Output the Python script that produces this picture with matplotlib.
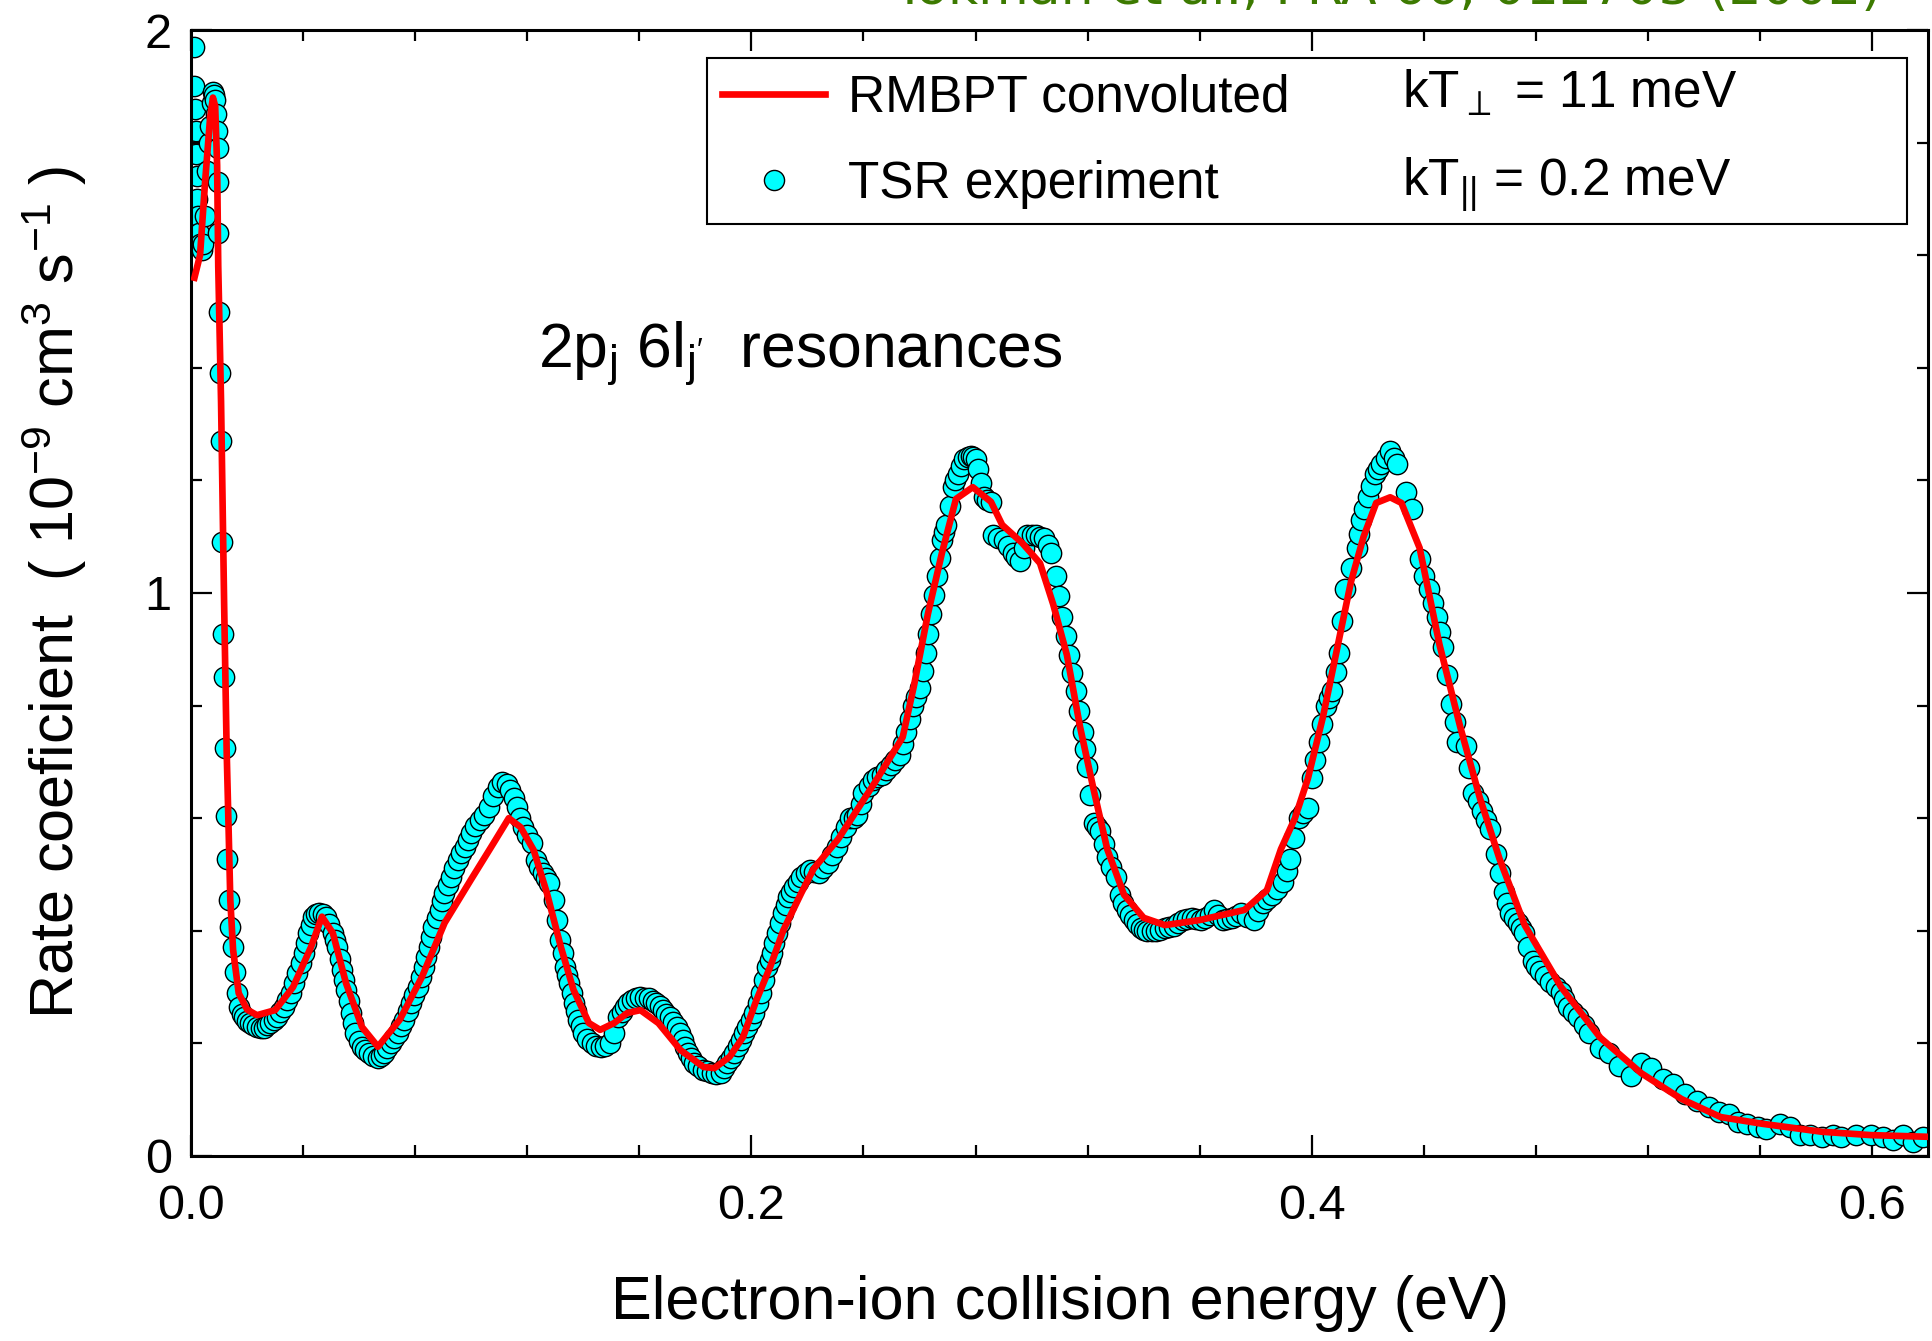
import numpy as np
import matplotlib
matplotlib.use("Agg")
import matplotlib.pyplot as plt
from matplotlib.lines import Line2D
from matplotlib.ticker import MultipleLocator, FormatStrFormatter

plt.rcParams['font.family'] = ['Liberation Sans', 'DejaVu Sans']
plt.rcParams['mathtext.fontset'] = 'custom'
plt.rcParams['mathtext.rm'] = 'Liberation Sans'
plt.rcParams['mathtext.default'] = 'regular'

# RMBPT theory convoluted with kT_perp = 11 meV, kT_par = 0.2 meV
theory_e = np.array([
    0.0012, 0.0032, 0.0050, 0.0068, 0.0078, 0.0086, 0.0093, 0.0097, 0.0107, 0.0118,
    0.0127, 0.0134, 0.0140, 0.0150, 0.0170, 0.0200, 0.0235, 0.0300, 0.0364, 0.0428,
    0.0467, 0.0506, 0.0553, 0.0610, 0.0667, 0.0745, 0.0824, 0.0905, 0.0998, 0.1080,
    0.1134, 0.1176, 0.1223, 0.1270, 0.1320, 0.1365, 0.1420, 0.1460, 0.1510, 0.1557,
    0.1604, 0.1668, 0.1747, 0.1829, 0.1868, 0.1922, 0.1970, 0.2018, 0.2067, 0.2114,
    0.2178, 0.2222, 0.2310, 0.2440, 0.2540, 0.2580, 0.2630, 0.2680, 0.2730, 0.2790,
    0.2855, 0.2895, 0.2966, 0.3030, 0.3077, 0.3126, 0.3173, 0.3220, 0.3270, 0.3330,
    0.3400, 0.3476, 0.3600, 0.3760, 0.3840, 0.3890, 0.3940, 0.3986, 0.4040, 0.4090,
    0.4140, 0.4185, 0.4230, 0.4280, 0.4320, 0.4385, 0.4456, 0.4530, 0.4600, 0.4670,
    0.4760, 0.4890, 0.5030, 0.5176, 0.5320, 0.5460, 0.5610, 0.5820, 0.5996, 0.6200])
theory_rate = np.array([
    1.56, 1.60, 1.73, 1.845, 1.88, 1.865, 1.76, 1.58, 1.34, 0.98,
    0.72, 0.58, 0.455, 0.366, 0.289, 0.26, 0.25, 0.259, 0.300, 0.371,
    0.425, 0.396, 0.307, 0.229, 0.194, 0.242, 0.318, 0.414, 0.490, 0.556,
    0.600, 0.584, 0.543, 0.467, 0.371, 0.295, 0.236, 0.224, 0.236, 0.254,
    0.259, 0.236, 0.188, 0.158, 0.156, 0.176, 0.211, 0.277, 0.336, 0.401,
    0.467, 0.510, 0.563, 0.663, 0.744, 0.835, 0.963, 1.071, 1.167, 1.188,
    1.162, 1.121, 1.089, 1.053, 0.980, 0.890, 0.762, 0.654, 0.545, 0.464,
    0.423, 0.410, 0.419, 0.437, 0.472, 0.545, 0.600, 0.670, 0.780, 0.900,
    1.020, 1.100, 1.160, 1.170, 1.160, 1.080, 0.908, 0.762, 0.636, 0.528,
    0.410, 0.300, 0.210, 0.147, 0.101, 0.069, 0.057, 0.043, 0.037, 0.034])

# TSR storage ring measurement
exp_e = np.array([
    0.0010, 0.0012, 0.0014, 0.0016, 0.0018, 0.0020, 0.0022, 0.0025, 0.0028, 0.0032,
    0.0038, 0.0044, 0.0050, 0.0057, 0.0063, 0.0068, 0.0073, 0.0077, 0.0082, 0.0086,
    0.0090, 0.0093, 0.0095, 0.0096, 0.0097, 0.0099, 0.0103, 0.0106, 0.0110, 0.0114,
    0.0117, 0.0120, 0.0123, 0.0130, 0.0136, 0.0140, 0.0148, 0.0156, 0.0164, 0.0171,
    0.0180, 0.0189, 0.0200, 0.0210, 0.0222, 0.0235, 0.0248, 0.0260, 0.0272, 0.0283,
    0.0295, 0.0307, 0.0319, 0.0331, 0.0343, 0.0355, 0.0367, 0.0379, 0.0391, 0.0403,
    0.0411, 0.0419, 0.0427, 0.0435, 0.0447, 0.0458, 0.0470, 0.0482, 0.0494, 0.0506,
    0.0514, 0.0522, 0.0530, 0.0538, 0.0546, 0.0553, 0.0562, 0.0570, 0.0578, 0.0585,
    0.0598, 0.0610, 0.0622, 0.0634, 0.0650, 0.0667, 0.0678, 0.0689, 0.0701, 0.0713,
    0.0726, 0.0738, 0.0750, 0.0761, 0.0773, 0.0784, 0.0797, 0.0809, 0.0821, 0.0832,
    0.0840, 0.0848, 0.0856, 0.0864, 0.0876, 0.0888, 0.0896, 0.0904, 0.0916, 0.0927,
    0.0940, 0.0952, 0.0964, 0.0976, 0.0987, 0.0998, 0.1014, 0.1030, 0.1046, 0.1062,
    0.1078, 0.1094, 0.1110, 0.1127, 0.1140, 0.1152, 0.1163, 0.1173, 0.1183, 0.1200,
    0.1216, 0.1230, 0.1243, 0.1255, 0.1267, 0.1279, 0.1294, 0.1306, 0.1318, 0.1326,
    0.1334, 0.1342, 0.1350, 0.1358, 0.1366, 0.1374, 0.1382, 0.1390, 0.1398, 0.1414,
    0.1430, 0.1446, 0.1462, 0.1478, 0.1494, 0.1509, 0.1525, 0.1537, 0.1548, 0.1560,
    0.1572, 0.1588, 0.1604, 0.1620, 0.1636, 0.1649, 0.1661, 0.1672, 0.1683, 0.1696,
    0.1708, 0.1720, 0.1733, 0.1745, 0.1756, 0.1764, 0.1772, 0.1784, 0.1795, 0.1811,
    0.1827, 0.1843, 0.1859, 0.1875, 0.1890, 0.1902, 0.1914, 0.1927, 0.1939, 0.1951,
    0.1963, 0.1975, 0.1986, 0.1998, 0.2010, 0.2022, 0.2034, 0.2046, 0.2057, 0.2066,
    0.2074, 0.2082, 0.2090, 0.2102, 0.2114, 0.2122, 0.2129, 0.2141, 0.2153, 0.2166,
    0.2178, 0.2194, 0.2210, 0.2225, 0.2240, 0.2257, 0.2273, 0.2289, 0.2305, 0.2320,
    0.2336, 0.2353, 0.2365, 0.2378, 0.2390, 0.2400, 0.2418, 0.2435, 0.2450, 0.2466,
    0.2482, 0.2497, 0.2513, 0.2530, 0.2542, 0.2553, 0.2565, 0.2577, 0.2589, 0.2600,
    0.2612, 0.2624, 0.2632, 0.2640, 0.2652, 0.2663, 0.2672, 0.2680, 0.2688, 0.2695,
    0.2708, 0.2720, 0.2728, 0.2736, 0.2748, 0.2760, 0.2772, 0.2784, 0.2792, 0.2800,
    0.2808, 0.2819, 0.2830, 0.2842, 0.2855, 0.2863, 0.2880, 0.2900, 0.2917, 0.2934,
    0.2946, 0.2959, 0.2972, 0.2984, 0.3000, 0.3015, 0.3030, 0.3046, 0.3058, 0.3070,
    0.3087, 0.3099, 0.3110, 0.3122, 0.3134, 0.3146, 0.3159, 0.3170, 0.3182, 0.3190,
    0.3198, 0.3210, 0.3221, 0.3233, 0.3245, 0.3258, 0.3270, 0.3285, 0.3300, 0.3316,
    0.3328, 0.3340, 0.3352, 0.3365, 0.3377, 0.3389, 0.3400, 0.3412, 0.3428, 0.3444,
    0.3460, 0.3476, 0.3492, 0.3508, 0.3524, 0.3540, 0.3556, 0.3572, 0.3588, 0.3604,
    0.3620, 0.3636, 0.3650, 0.3667, 0.3683, 0.3699, 0.3715, 0.3731, 0.3747, 0.3770,
    0.3793, 0.3809, 0.3825, 0.3841, 0.3857, 0.3877, 0.3897, 0.3910, 0.3922, 0.3938,
    0.3954, 0.3970, 0.3986, 0.4000, 0.4012, 0.4025, 0.4038, 0.4050, 0.4062, 0.4073,
    0.4085, 0.4097, 0.4108, 0.4120, 0.4140, 0.4160, 0.4168, 0.4176, 0.4188, 0.4200,
    0.4212, 0.4225, 0.4236, 0.4248, 0.4264, 0.4280, 0.4292, 0.4303, 0.4335, 0.4356,
    0.4385, 0.4400, 0.4420, 0.4433, 0.4447, 0.4458, 0.4470, 0.4484, 0.4498, 0.4510,
    0.4520, 0.4549, 0.4563, 0.4577, 0.4592, 0.4606, 0.4621, 0.4636, 0.4658, 0.4672,
    0.4687, 0.4698, 0.4708, 0.4722, 0.4737, 0.4748, 0.4759, 0.4773, 0.4788, 0.4802,
    0.4816, 0.4834, 0.4852, 0.4870, 0.4888, 0.4902, 0.4916, 0.4934, 0.4952, 0.4970,
    0.4988, 0.5030, 0.5060, 0.5097, 0.5140, 0.5176, 0.5212, 0.5255, 0.5290, 0.5333,
    0.5376, 0.5419, 0.5455, 0.5490, 0.5520, 0.5555, 0.5593, 0.5622, 0.5672, 0.5708,
    0.5743, 0.5780, 0.5822, 0.5860, 0.5890, 0.5943, 0.5995, 0.6040, 0.6074, 0.6110,
    0.6146, 0.6180])
exp_rate = np.array([
    1.97, 1.90, 1.86, 1.82, 1.78, 1.74, 1.70, 1.67, 1.64, 1.62,
    1.61, 1.62, 1.67, 1.75, 1.80, 1.83, 1.87, 1.89, 1.885, 1.875,
    1.85, 1.82, 1.79, 1.73, 1.64, 1.50, 1.39, 1.27, 1.09, 0.927,
    0.85, 0.725, 0.604, 0.527, 0.455, 0.407, 0.371, 0.327, 0.289, 0.265,
    0.252, 0.247, 0.240, 0.236, 0.232, 0.229, 0.228, 0.227, 0.232, 0.236,
    0.241, 0.247, 0.256, 0.265, 0.277, 0.289, 0.307, 0.325, 0.343, 0.360,
    0.378, 0.396, 0.411, 0.425, 0.430, 0.431, 0.429, 0.425, 0.412, 0.396,
    0.384, 0.371, 0.350, 0.330, 0.312, 0.295, 0.275, 0.254, 0.236, 0.218,
    0.205, 0.194, 0.188, 0.183, 0.178, 0.174, 0.178, 0.183, 0.192, 0.201,
    0.210, 0.218, 0.230, 0.242, 0.257, 0.272, 0.286, 0.300, 0.318, 0.336,
    0.353, 0.371, 0.389, 0.407, 0.422, 0.437, 0.452, 0.467, 0.482, 0.496,
    0.511, 0.526, 0.538, 0.549, 0.562, 0.574, 0.586, 0.597, 0.606, 0.620,
    0.640, 0.655, 0.664, 0.660, 0.650, 0.635, 0.620, 0.600, 0.584, 0.570,
    0.556, 0.526, 0.513, 0.502, 0.494, 0.485, 0.455, 0.420, 0.384, 0.360,
    0.336, 0.322, 0.307, 0.290, 0.272, 0.257, 0.242, 0.230, 0.218, 0.208,
    0.201, 0.196, 0.194, 0.196, 0.201, 0.218, 0.247, 0.256, 0.265, 0.271,
    0.277, 0.280, 0.282, 0.281, 0.280, 0.276, 0.272, 0.266, 0.259, 0.253,
    0.247, 0.238, 0.229, 0.218, 0.206, 0.194, 0.183, 0.174, 0.165, 0.159,
    0.153, 0.150, 0.147, 0.146, 0.147, 0.156, 0.165, 0.174, 0.183, 0.195,
    0.206, 0.218, 0.229, 0.241, 0.254, 0.272, 0.289, 0.312, 0.336, 0.348,
    0.360, 0.378, 0.396, 0.414, 0.431, 0.446, 0.460, 0.469, 0.478, 0.487,
    0.496, 0.502, 0.508, 0.505, 0.502, 0.511, 0.520, 0.535, 0.549, 0.566,
    0.584, 0.600, 0.600, 0.605, 0.625, 0.645, 0.657, 0.668, 0.673, 0.677,
    0.686, 0.695, 0.704, 0.712, 0.732, 0.753, 0.777, 0.800, 0.815, 0.831,
    0.862, 0.893, 0.928, 0.963, 0.996, 1.030, 1.062, 1.094, 1.108, 1.121,
    1.155, 1.188, 1.200, 1.211, 1.225, 1.238, 1.242, 1.243, 1.241, 1.238,
    1.220, 1.195, 1.170, 1.166, 1.162, 1.103, 1.098, 1.094, 1.083, 1.071,
    1.064, 1.057, 1.080, 1.103, 1.103, 1.103, 1.100, 1.098, 1.085, 1.071,
    1.030, 0.994, 0.957, 0.923, 0.890, 0.858, 0.826, 0.790, 0.753, 0.722,
    0.691, 0.641, 0.591, 0.584, 0.577, 0.554, 0.531, 0.513, 0.496, 0.464,
    0.450, 0.437, 0.428, 0.419, 0.412, 0.405, 0.402, 0.400, 0.400, 0.400,
    0.402, 0.405, 0.407, 0.409, 0.414, 0.419, 0.421, 0.423, 0.421, 0.419,
    0.423, 0.428, 0.437, 0.428, 0.419, 0.421, 0.423, 0.427, 0.431, 0.425,
    0.419, 0.435, 0.450, 0.457, 0.464, 0.475, 0.487, 0.507, 0.528, 0.564,
    0.600, 0.609, 0.618, 0.671, 0.703, 0.735, 0.768, 0.800, 0.813, 0.826,
    0.860, 0.893, 0.950, 1.007, 1.044, 1.080, 1.105, 1.130, 1.150, 1.170,
    1.190, 1.211, 1.220, 1.229, 1.240, 1.252, 1.240, 1.229, 1.180, 1.150,
    1.060, 1.030, 1.007, 0.982, 0.957, 0.930, 0.904, 0.855, 0.803, 0.770,
    0.735, 0.728, 0.690, 0.645, 0.630, 0.613, 0.597, 0.581, 0.536, 0.503,
    0.469, 0.450, 0.431, 0.423, 0.414, 0.405, 0.396, 0.371, 0.346, 0.338,
    0.329, 0.319, 0.309, 0.300, 0.291, 0.278, 0.265, 0.256, 0.247, 0.233,
    0.218, 0.192, 0.183, 0.160, 0.142, 0.165, 0.156, 0.137, 0.128, 0.110,
    0.097, 0.087, 0.078, 0.074, 0.060, 0.056, 0.051, 0.047, 0.056, 0.051,
    0.038, 0.038, 0.034, 0.038, 0.034, 0.038, 0.038, 0.034, 0.029, 0.038,
    0.024, 0.034])

fig = plt.figure(figsize=(19.32, 13.41), dpi=100)
ax = fig.add_axes([0.0989, 0.138, 0.8991, 0.8396])

ax.scatter(exp_e, exp_rate, s=215, c='cyan', edgecolors='black', linewidths=1.0, zorder=2)
ax.plot(theory_e, theory_rate, color='red', lw=4.8, zorder=3, solid_joinstyle='round')

ax.set_xlim(0, 0.62)
ax.set_ylim(0, 2)
ax.xaxis.set_major_locator(MultipleLocator(0.2))
ax.xaxis.set_minor_locator(MultipleLocator(0.04))
ax.yaxis.set_major_locator(MultipleLocator(1))
ax.yaxis.set_minor_locator(MultipleLocator(0.2))
ax.xaxis.set_major_formatter(FormatStrFormatter('%.1f'))
ax.yaxis.set_major_formatter(FormatStrFormatter('%d'))

for sp in ax.spines.values():
    sp.set_linewidth(2.2)
ax.tick_params(which='both', direction='in', top=True, right=True, width=1.6, labelsize=35)
ax.tick_params(which='major', length=15)
ax.tick_params(which='minor', length=8)
ax.tick_params(axis='x', which='major', pad=20)
ax.tick_params(axis='y', which='major', pad=14)

ax.set_xlabel('Electron-ion collision energy (eV)', fontsize=44, labelpad=33)
ax.set_ylabel(r'Rate coeficient  ( 10$^{-9}$ cm$^{3}$ s$^{-1}$ )', fontsize=44, labelpad=40)

ax.text(0.200, 0.701, r"2p$_{j}$ 6l$_{j'}$  resonances", transform=ax.transAxes,
        fontsize=45, va='baseline')

handles = [Line2D([], [], color='red', lw=4.8),
           Line2D([], [], marker='o', ls='none', mfc='cyan', mec='black', mew=1.0, ms=14.5)]
leg = ax.legend(handles, ['RMBPT convoluted', 'TSR experiment'], loc='upper left',
                bbox_to_anchor=(0.297, 0.835, 0.691, 0.140), mode='expand',
                fontsize=37, fancybox=False, edgecolor='black', framealpha=1,
                borderpad=0.3, labelspacing=0.72, handlelength=2.0,
                handletextpad=0.45, borderaxespad=0)
leg.get_frame().set_linewidth(1.5)

ax.text(0.697, 0.931, r'kT$_{\perp}$ = 11 meV', transform=ax.transAxes, fontsize=37,
        va='baseline', zorder=6)
ax.text(0.697, 0.853, r'kT$_{||}$ = 0.2 meV', transform=ax.transAxes, fontsize=37,
        va='baseline', zorder=6)

fig.text(0.4625, 0.997, 'Tokman et al., PRA 66, 012703 (2002)', family='DejaVu Sans',
         fontsize=37.5, color='#3c7a00', va='baseline', ha='left')

fig.savefig('out.png', dpi=100)
